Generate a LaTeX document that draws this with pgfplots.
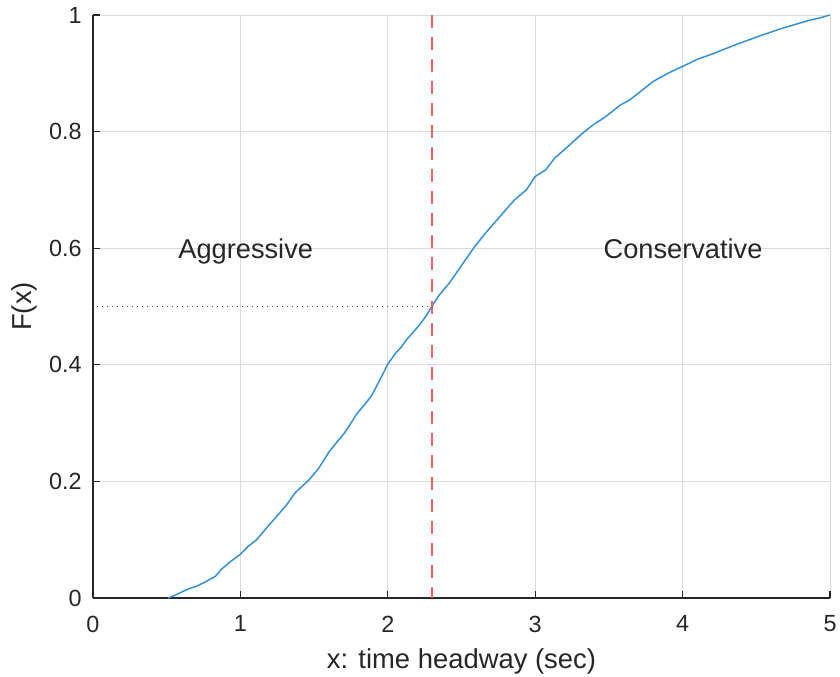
\documentclass[border=0pt]{standalone}
\usepackage{pgfplots}
\pgfplotsset{compat=1.18}
\usepackage{fontspec}
\setmainfont{Liberation Sans}
\definecolor{txt}{HTML}{262626}
\definecolor{gridc}{HTML}{DADADA}
\definecolor{mblue}{HTML}{3590D6}
\definecolor{mred}{HTML}{F26262}
\definecolor{dotc}{HTML}{505050}
\begin{document}
\begin{tikzpicture}
\begin{axis}[
  scale only axis,
  width=368.5pt, height=291.5pt,
  at={(0,0)}, anchor=south west,
  xmin=0, xmax=5, ymin=0, ymax=1,
  axis lines=left,
  axis line style={-, color=txt, line width=0.7pt},
  xtick={0,1,2,3,4,5},
  ytick={0,0.2,0.4,0.6,0.8,1},
  yticklabels={0,0.2,0.4,0.6,0.8,1},
  xticklabels={0,1,2,3,4,5},
  tick align=inside,
  major tick length=3.5pt,
  tick style={color=txt, line width=0.6pt},
  grid=major,
  major grid style={color=gridc, line width=0.5pt},
  /pgf/number format/assume math mode=true,
  ticklabel style={font=\fontsize{11.7}{13}\selectfont, color=txt},
  xticklabel style={yshift=-5.4pt},
  yticklabel style={xshift=-2.1pt},
  xlabel={x: time headway (sec)},
  ylabel={F(x)},
  label style={font=\fontsize{13.7}{15}\selectfont, color=txt},
  xlabel style={at={(axis description cs:0.5,-0.109)}, anchor=center},
  ylabel style={at={(axis description cs:-0.0936,0.5)}, anchor=center},
  clip=false,
]
\addplot[mblue, line width=0.75pt] coordinates {
(0.51,0.000) (0.55,0.004) (0.60,0.010) (0.64,0.015) (0.70,0.020) (0.75,0.026)
(0.80,0.033) (0.83,0.037) (0.87,0.049) (0.93,0.062) (1.00,0.075) (1.05,0.088)
(1.11,0.100) (1.18,0.121) (1.26,0.144) (1.32,0.162) (1.37,0.180) (1.42,0.192)
(1.46,0.201) (1.53,0.222) (1.60,0.250) (1.65,0.266) (1.70,0.281) (1.75,0.300)
(1.79,0.316) (1.84,0.331) (1.89,0.347) (1.95,0.376) (2.00,0.401) (2.05,0.419)
(2.09,0.430) (2.13,0.444) (2.18,0.458) (2.22,0.470) (2.26,0.484) (2.30,0.501)
(2.35,0.520) (2.42,0.541) (2.51,0.574) (2.59,0.603) (2.67,0.628) (2.77,0.657)
(2.86,0.683) (2.94,0.700) (3.00,0.723) (3.07,0.734) (3.13,0.754) (3.22,0.774)
(3.32,0.797) (3.39,0.811) (3.48,0.826) (3.58,0.846) (3.64,0.854) (3.73,0.872)
(3.80,0.886) (3.90,0.900) (4.01,0.913) (4.10,0.924) (4.20,0.933) (4.37,0.950)
(4.50,0.962) (4.66,0.976) (4.78,0.985) (4.86,0.991) (4.93,0.995) (5.00,1.000)
};
\addplot[mred, line width=1.3pt, dash pattern=on 6.5pt off 4.5pt] coordinates {(2.3,1) (2.3,0)};
\addplot[dotc, line width=0.6pt, dash pattern=on 0.6pt off 1.9pt, dash phase=-2pt] coordinates {(0,0.5) (2.3,0.5)};
\node[anchor=base west, inner sep=0pt, font=\fontsize{13.6}{15}\selectfont, color=txt] at (axis cs:0.577,0.583) {Aggressive};
\node[anchor=base west, inner sep=0pt, font=\fontsize{13.6}{15}\selectfont, color=txt] at (axis cs:3.462,0.583) {Conservative};
\end{axis}
\pgfresetboundingbox
\useasboundingbox (-46.5pt,-39pt) rectangle (373.5pt,299pt);
\end{tikzpicture}
\end{document}
